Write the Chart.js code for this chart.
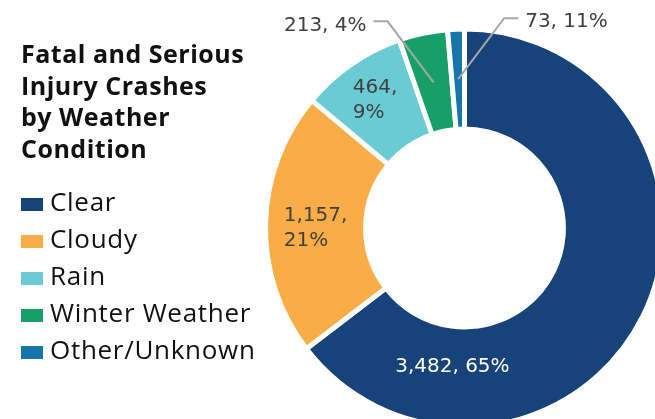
<!DOCTYPE html>
<html>
<head>
<meta charset="utf-8">
<script src="https://cdn.jsdelivr.net/npm/chart.js@4.4.1/dist/chart.umd.min.js"></script>
<style>
  html, body { margin: 0; padding: 0; background: #fff; }
  body { width: 655px; height: 419px; position: relative; overflow: hidden; font-family: "Open Sans", Lato, sans-serif; }
  #chartBox { position: absolute; left: 0; top: 0; width: 655px; height: 419px; }
  .title { position: absolute; left: 21px; top: 38px; font-weight: 700; font-size: 25px; line-height: 31.6px; letter-spacing: 0.5px; color: #111; z-index: 2; }
  .legend { position: absolute; left: 21px; top: 183px; z-index: 2; }
  .legend-item { height: 37px; line-height: 37px; font-size: 26px; letter-spacing: 0.7px; color: #111; white-space: nowrap; }
  .legend-item span.box { display: inline-block; width: 22px; height: 13px; margin-right: 7px; }
</style>
</head>
<body>
<div class="title">Fatal and Serious<br>Injury Crashes<br>by Weather<br>Condition</div>
<div class="legend" id="legend"></div>
<div id="chartBox"><canvas id="donut" width="655" height="419"></canvas></div>
<script>
// data
const categories = ['Clear', 'Cloudy', 'Rain', 'Winter Weather', 'Other/Unknown'];
const crashes = [3482, 1157, 464, 213, 73];
const percents = [65, 21, 9, 4, 11];
const colors = ['#17427A', '#FAAD46', '#6BCBD4', '#16A068', '#1675AA'];

// where each data label sits (angle clockwise from top, distance from centre)
const labelSpots = [
    { angle: 185, r: 139, wrap: false, color: '#ffffff' },
    { angle: 270, r: 149, wrap: true, color: '#404040' },
    { angle: 325, r: 156, wrap: true, color: '#404040' },
    { callout: true, dx: -46, dy: -61, side: -1, color: '#404040' },
    { callout: true, dx: 46, dy: -61, side: 1, color: '#404040' }
];

// html legend built from the same arrays
const legendEl = document.getElementById('legend');
categories.forEach((name, i) => {
    const row = document.createElement('div');
    row.className = 'legend-item';
    const box = document.createElement('span');
    box.className = 'box';
    box.style.background = colors[i];
    row.appendChild(box);
    row.appendChild(document.createTextNode(name));
    legendEl.appendChild(row);
});

const sliceLabels = {
    id: 'sliceLabels',
    afterDatasetsDraw(chart) {
        const ctx = chart.ctx;
        const arcs = chart.getDatasetMeta(0).data;
        ctx.save();
        ctx.font = '20px "DejaVu Sans"';
        arcs.forEach((arc, i) => {
            const spot = labelSpots[i];
            const count = crashes[i].toLocaleString('en-US');
            const pct = percents[i] + '%';
            ctx.fillStyle = spot.color;
            if (spot.callout) {
                const p = arc.tooltipPosition();
                const ex = p.x + spot.dx, ey = p.y + spot.dy;
                const hx = ex + spot.side * 14;
                ctx.strokeStyle = '#A6A6A6';
                ctx.lineWidth = 2;
                ctx.beginPath();
                ctx.moveTo(p.x, p.y);
                ctx.lineTo(ex, ey);
                ctx.lineTo(hx, ey);
                ctx.stroke();
                ctx.textAlign = spot.side < 0 ? 'right' : 'left';
                ctx.textBaseline = 'middle';
                ctx.fillText(count + ', ' + pct, hx + spot.side * 7, ey + 4);
            } else {
                const a = spot.angle * Math.PI / 180;
                const cx = arc.x + Math.sin(a) * spot.r;
                const cy = arc.y - Math.cos(a) * spot.r;
                const lines = spot.wrap ? [count + ',', pct] : [count + ', ' + pct];
                const w = Math.max(...lines.map(t => ctx.measureText(t).width));
                ctx.textAlign = 'left';
                ctx.textBaseline = 'middle';
                lines.forEach((t, k) => {
                    ctx.fillText(t, cx - w / 2, cy + (k - (lines.length - 1) / 2) * 25);
                });
            }
        });
        ctx.restore();
    }
};

new Chart(document.getElementById('donut'), {
    type: 'doughnut',
    data: {
        labels: categories,
        datasets: [{
            data: crashes,
            backgroundColor: colors,
            borderColor: '#ffffff',
            borderWidth: 5
        }]
    },
    options: {
        responsive: false,
        animation: false,
        radius: 199,
        cutout: '49.7%',
        layout: { padding: { left: 274, top: 37 } },
        plugins: {
            legend: { display: false },
            tooltip: { enabled: false }
        }
    },
    plugins: [sliceLabels]
});
</script>
</body>
</html>
